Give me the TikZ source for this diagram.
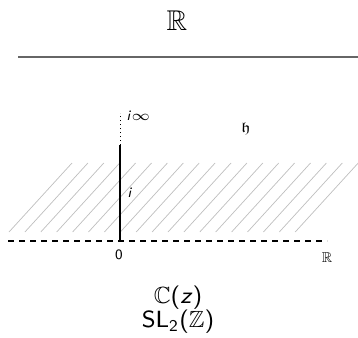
\documentclass[tikz,border=0pt]{standalone}
\usepackage{amsmath}
\usepackage{amssymb}
\usetikzlibrary{positioning}
\colorlet{hatchgray}{black!25}
\colorlet{linegray}{black!60}

\begin{document}
\begin{tikzpicture}[x=0.35pt, y=-0.35pt, font=\sffamily,
    lbl/.style={inner sep=0pt, font=\sffamily\tiny},
    big/.style={inner sep=0pt, font=\sffamily\fontsize{8.2}{10}\selectfont}]
    \useasboundingbox (0,0) rectangle (358,337);

    % Real line on top
    \node[inner sep=0pt, font=\normalsize] (topR) at (177,21) {$\mathbb{R}$};
    \draw[linegray, line width=0.7pt] (18,57) -- (358,57);

    % Hatched strip
    \foreach \k in {0,...,18} {
        \draw[hatchgray, line width=0.25pt] (9+15.9*\k,232) -- (72+15.9*\k,163);
    }

    % Axes
    \coordinate (O) at (120,241);
    \coordinate (I) at (120,145);
    \coordinate (Iinf) at (120,113);
    \draw[dash pattern=on 2.1pt off 1.75pt, line width=0.45pt] (8,241) -- (327,241);
    \draw[line width=0.45pt] (O) -- (I);
    \draw[dash pattern=on 0.35pt off 1.05pt, line width=0.35pt] (I) -- (Iinf);

    % Labels
    \node[lbl, anchor=west] (iinf) at (126,116) {\textit{i}$\infty$};
    \node[lbl] (frakh) at (246,129) {$\mathfrak{h}$};
    \node[lbl] (ilbl) at (130,193) {\textit{i}};
    \node[lbl] (zero) at (119,255) {0};
    \node[lbl] (axisR) at (327,258) {$\mathbb{R}$};

    \node[big] (Cz) at (178,298) {$\mathbb{C}$(\textit{z})};
    \node[big] (SL) at (178,322) {SL$_{\textsf{2}}$($\mathbb{Z}$)};
\end{tikzpicture}
\end{document}
